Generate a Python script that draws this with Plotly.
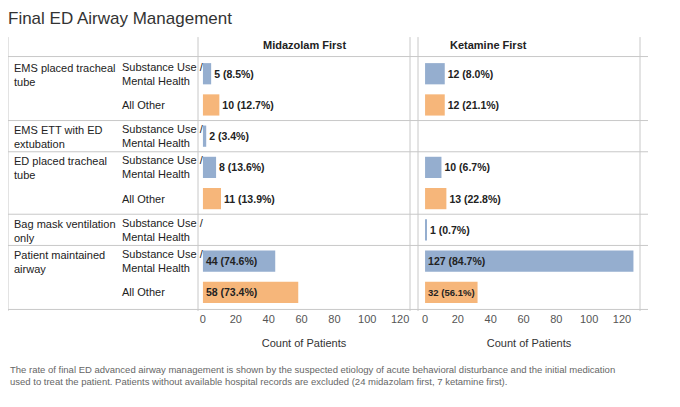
import plotly.graph_objects as go

# row layout (top to bottom)
groups = ["EMS placed tracheal<br>tube", "EMS ETT with ED<br>extubation", "ED placed tracheal<br>tube",
          "Bag mask ventilation<br>only", "Patient maintained<br>airway"]
group_rows = [[0, 1], [2], [3, 4], [5], [6, 7]]
sub_labels = ["Substance Use /<br>Mental Health", "All Other", "Substance Use /<br>Mental Health",
              "Substance Use /<br>Mental Health", "All Other", "Substance Use /<br>Mental Health",
              "Substance Use /<br>Mental Health", "All Other"]
is_su = [True, False, True, True, False, True, True, False]

mid_counts = [5, 10, 2, 8, 11, None, 44, 58]
mid_pct = [8.5, 12.7, 3.4, 13.6, 13.9, None, 74.6, 73.4]
ket_counts = [12, 12, None, 10, 13, 1, 127, 32]
ket_pct = [8.0, 21.1, None, 6.7, 22.8, 0.7, 84.7, 56.1]

BLUE = "#95aecf"
ORANGE = "#f6b67a"
FONT = "Liberation Sans, Arial, sans-serif"

fig = go.Figure()
for counts, pct, xa in [(mid_counts, mid_pct, "x"), (ket_counts, ket_pct, "x2")]:
    ys = [i for i, c in enumerate(counts) if c is not None]
    xs = [counts[i] for i in ys]
    txt = ["<b>%d (%.1f%%)</b>" % (counts[i], pct[i]) for i in ys]
    cols = [BLUE if is_su[i] else ORANGE for i in ys]
    pos = ["inside" if counts[i] >= 30 else "outside" for i in ys]
    fig.add_trace(go.Bar(x=xs, y=ys, orientation="h", xaxis=xa, yaxis="y",
                         marker=dict(color=cols, line=dict(width=0)), width=0.68,
                         text=txt, textposition=pos, insidetextanchor="start", cliponaxis=False,
                         textfont=dict(size=10.5, color="#222"), showlegend=False))

OFF = 8  # page body margin
L, R, T, B = 0, 40, 47, 104
W = 680 - L - R
def px(x):
    return (x - OFF - L) / W

line = dict(color="#c8c8c8", width=1)
shapes = []
for yb in [-0.55, 1.5, 2.5, 4.5, 5.5, 7.55]:
    shapes.append(dict(type="line", xref="paper", yref="y", x0=0, x1=1, y0=yb, y1=yb, line=line))
for xv in [8, 198, 410, 418, 640]:
    shapes.append(dict(type="line", xref="paper", yref="paper", x0=px(xv), x1=px(xv), y0=0, y1=1.07, line=line))

ann = []
for g, rows in zip(groups, group_rows):
    ann.append(dict(text=g, x=px(12), xref="paper", y=rows[0] - 0.45, yref="y", xanchor="left", yanchor="top",
                    align="left", showarrow=False, font=dict(size=11, color="#222")))
for i, s in enumerate(sub_labels):
    ann.append(dict(text=s, x=px(120), xref="paper", y=i, yref="y", xanchor="left", yanchor="middle",
                    align="left", showarrow=False, font=dict(size=11, color="#222")))
for t, x0, x1 in [("Midazolam First", 198, 410), ("Ketamine First", 418, 640)]:
    ann.append(dict(text="<b>" + t + "</b>", x=px((x0 + x1) / 2), xref="paper", y=1.07, yref="paper",
                    showarrow=False, font=dict(size=11, color="#222")))
ann.append(dict(text="The rate of final ED advanced airway management is shown by the suspected etiology of acute behavioral disturbance and the initial medication<br>used to treat the patient. Patients without available hospital records are excluded (24 midazolam first, 7 ketamine first).",
                x=0, xref="paper", y=-0.2, yref="paper", xanchor="left", yanchor="top", align="left",
                showarrow=False, font=dict(size=9.5, color="#666")))

axis = dict(tickvals=[0, 20, 40, 60, 80, 100, 120], showgrid=False, zeroline=False, showline=False,
            tickfont=dict(size=11, color="#555"), ticks="",
            title=dict(text="Count of Patients", font=dict(size=11, color="#333")))
fig.update_layout(
    width=680, height=407, margin=dict(l=L, r=R, t=T, b=B),
    paper_bgcolor="white", plot_bgcolor="white", font=dict(family=FONT),
    title=dict(text="Final ED Airway Management", x=0.0, y=0.99, xanchor="left", yanchor="top",
               font=dict(size=17, color="#333")),
    xaxis=dict(domain=[px(198), px(410)], range=[-3, 126], **axis),
    xaxis2=dict(domain=[px(418), px(640)], range=[-4.3, 131], **axis),
    yaxis=dict(range=[7.6, -0.6], showticklabels=False, showgrid=False, zeroline=False),
    shapes=shapes, annotations=ann,
)
fig.write_html("out.html")
